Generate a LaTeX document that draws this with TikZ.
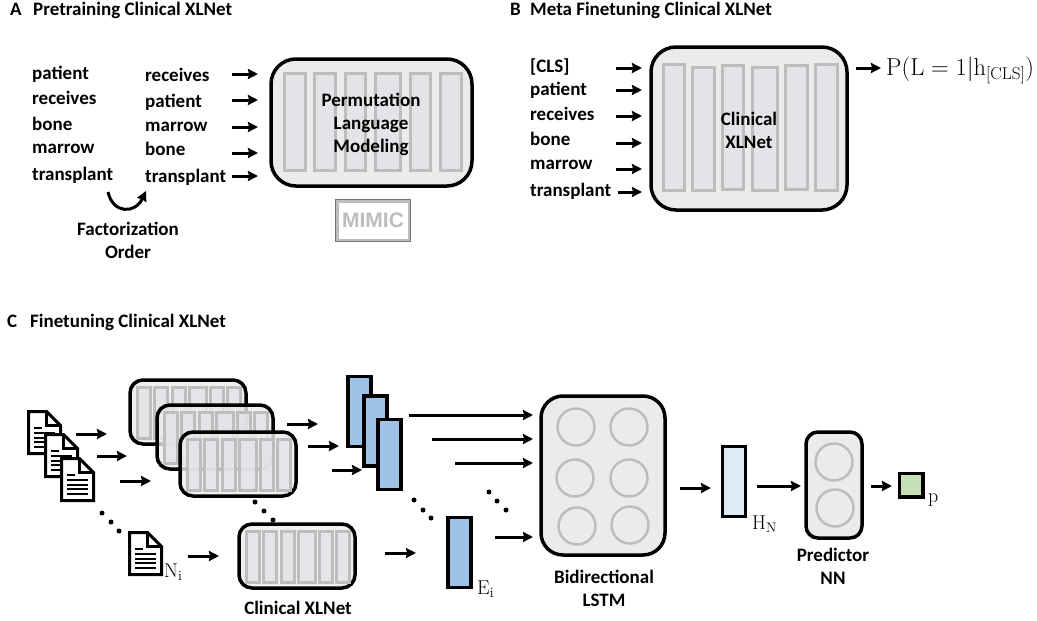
\documentclass[tikz,border=0pt]{standalone}
\usepackage{fix-cm}
\usepackage{fontspec}
\usetikzlibrary{arrows.meta}
\newfontfamily\carlito{Carlito}
\newfontfamily\mimicfont{Liberation Sans}
\definecolor{boxfill}{HTML}{EBEBEB}
\definecolor{barfill}{HTML}{E3E4E8}
\definecolor{barline}{HTML}{BDBDBD}
\definecolor{embedblue}{HTML}{9DC3E6}
\definecolor{hiddenblue}{HTML}{DEEBF7}
\definecolor{outgreen}{HTML}{C5E0B4}
\tikzset{
    flow/.style={line width=3pt, -{Stealth[length=10pt,width=10pt,inset=1pt]}},
    word/.style={font=\carlito\bfseries\fontsize{19}{23}\selectfont, inner sep=0pt, anchor=base west},
    caption/.style={font=\carlito\bfseries\fontsize{19}{23}\selectfont, inner sep=0pt, align=center},
    paneltitle/.style={font=\carlito\bfseries\fontsize{19}{21}\selectfont, inner sep=0pt, anchor=base west},
    mathlabel/.style={font=\fontsize{20}{22}\selectfont, inner sep=0pt, anchor=base west},
    bigbox/.style={draw=black, line width=3.5pt, fill=boxfill, rounded corners=25pt, inner sep=0pt},
    smallbox/.style={draw=black, line width=3.5pt, fill=boxfill, fill opacity=0.8, rounded corners=13pt, inner sep=0pt, minimum width=116pt, minimum height=64pt},
    bigbar/.style={draw=barline, line width=3pt, fill=barfill},
    smallbar/.style={draw=barline, line width=3pt, fill=barfill, fill opacity=0.85},
    vecbar/.style={draw=black, line width=3.5pt, inner sep=0pt, minimum width=23pt, minimum height=70pt},
    unit/.style={draw=barline, line width=2.5pt, circle, inner sep=0pt, minimum size=37pt},
    dot/.style={fill=black, circle, inner sep=0pt, minimum size=5pt},
}
\begin{document}
\begin{tikzpicture}[x=1pt, y=-1pt]
    \useasboundingbox (0,0) rectangle (1037,621);

    % panel A
    \node[paneltitle] (tagA) at (10,16) {A};
    \node[paneltitle] (titleA) at (33,16) {Pretraining Clinical XLNet};

    \foreach \w/\y in {patient/79,receives/104.5,bone/130,marrow/153.5,transplant/180.5}
        \node[word] (left\w) at (32,\y) {\w};
    \foreach \w/\y in {receives/81.5,patient/107,marrow/131.5,bone/155.5,transplant/182.5}
        \node[word] (right\w) at (145,\y) {\w};

    \coordinate (turnA) at (108,192);
    \coordinate (turnB) at (146,191);
    \draw[flow] (turnA) .. controls (113,214) and (135,214) .. (turnB);
    \node[caption] (order) at (128,240) {Factorization\\Order};

    \node[bigbox, minimum width=201pt, minimum height=127pt] (pretrain) at (371.5,122.5) {};
    \foreach \l/\r in {284/305,314/335,345/365,375/400,410/430,440/461}
        \draw[bigbar] (\l,73) rectangle (\r,170);
    \node[caption] (plm) at (371,124) {Permutation\\Language\\Modeling};
    \foreach \i/\y in {1/74,2/100,3/127,4/153,5/176} {
        \coordinate (inA\i) at (232,\y);
        \draw[flow] (inA\i) -- (258,\y);
    }

    \node[draw=barline, line width=3pt, fill=white, inner sep=0pt, minimum width=72pt, minimum height=39pt,
        text=barline, font=\mimicfont\bfseries\fontsize{21}{23}\selectfont] (mimic) at (373,220.5) {MIMIC};
    \draw[draw=black!55, line width=1pt] (mimic.north west) rectangle (mimic.south east);

    % panel B
    \node[paneltitle] (tagB) at (510,16) {B};
    \node[paneltitle] (titleB) at (530,16) {Meta Finetuning Clinical XLNet};

    \foreach \w/\y in {[CLS]/72.5,patient/95.5,receives/120.5,bone/145.5,marrow/169.5,transplant/196.5}
        \node[word] (meta\y) at (530,\y) {\w};

    \node[bigbox, minimum width=196pt, minimum height=163pt] (clinical) at (749,128.5) {};
    \foreach \l/\r/\t/\b in {663/684/64/190,692/714/67/190,722/743/65/189,752/777/67/190,785/807/65/189,815/837/64/190}
        \draw[bigbar] (\l,\t) rectangle (\r,\b);
    \node[caption] (cxl) at (749,130.5) {Clinical\\XLNet};
    \foreach \i/\a/\y in {1/616/68,2/616/90,3/616/116,4/616/143,5/616/169,6/618/192} {
        \coordinate (inB\i) at (\a,\y);
        \draw[flow] (inB\i) -- (642,\y);
    }
    \coordinate (outB) at (856,68);
    \coordinate (outBtip) at (881,68);
    \draw[flow] (outB) -- (outBtip);
    \node[mathlabel, font=\fontsize{24.5}{26}\selectfont] (prob) at (886,75) {$\mathrm{P(L=1|h_{[CLS]})}$};

    % panel C
    \node[paneltitle] (tagC) at (7,327) {C};
    \node[paneltitle] (titleC) at (30,327) {Finetuning Clinical XLNet};

    \foreach \x/\y in {28.5/411.5,45.5/434.5,61.5/458.5,129.5/532.5} {
        \begin{scope}[shift={(\x,\y)}]
            \draw[line width=3pt, fill=white, line join=miter] (0,0) -- (18,0) -- (32,14) -- (32,42) -- (0,42) -- cycle;
            \draw[line width=3pt] (18,0) -- (18,14) -- (32,14);
            \draw[line width=2pt] (5,16) -- (13,16);
            \foreach \d in {21,26,30,35} \draw[line width=2pt] (5,\d) -- (26,\d);
        \end{scope}
    }
    \node[mathlabel] (docN) at (164,577) {$\mathrm{N_i}$};

    \foreach \n/\bx/\by in {ctxa/129/379,ctxb/156/404,ctxc/179/431,ctxi/238/523} {
        \node[smallbox] (\n) at (\bx+59,\by+33) {};
        \foreach \l/\r in {8/21,25/38,43/56,60/77,81/94,98/111}
            \draw[smallbar] (\bx+\l,\by+8) rectangle (\bx+\r,\by+59);
    }
    \node[caption] (cxlc) at (298,608) {Clinical XLNet};

    \node[vecbar, fill=embedblue] (ema) at (359.5,411.5) {};
    \node[vecbar, fill=embedblue] (emb) at (375.5,431) {};
    \node[vecbar, fill=embedblue] (emc) at (389.5,454.5) {};
    \node[vecbar, fill=embedblue] (emi) at (459.5,552.5) {};
    \node[mathlabel] (emlabel) at (477,594) {$\mathrm{E_i}$};

    \foreach \i/\a/\b/\y in {1/76/107/434,2/97/127/456,3/120/151/481,4/188/219/556,
        5/287/318/424,6/308/339/446,7/332/362/470,8/385/416/553,
        9/409/533/415,10/432/533/439,11/455/533/463,12/495/533/537,
        13/680/711/488,14/757/801/486,15/871/892/486} {
        \coordinate (tail\i) at (\a,\y);
        \draw[flow] (tail\i) -- (\b,\y);
    }

    \foreach \x/\y in {102/513,111/522,119/531,255/502,264/511,273/520,414/500,423/510,431/518,489/492,497/501,506/510}
        \node[dot] (dot\x) at (\x,\y) {};

    \node[bigbox, rounded corners=22pt, minimum width=124pt, minimum height=159pt] (lstm) at (603,475.5) {};
    \foreach \n/\x/\y in {1/576/427,2/629/427,3/575/478,4/629/478,5/577/526,6/630/525}
        \node[unit] (cell\n) at (\x,\y) {};
    \node[caption] (lstmtext) at (604,588) {Bidirectional\\LSTM};

    \node[vecbar, fill=hiddenblue] (hidden) at (734,481.5) {};
    \node[mathlabel] (hlabel) at (752,529) {$\mathrm{H_N}$};

    \node[bigbox, rounded corners=12pt, minimum width=56pt, minimum height=106pt] (predictor) at (834,485) {};
    \node[unit] (preda) at (834,462) {};
    \node[unit] (predb) at (835,508) {};
    \node[caption] (predtext) at (833,566.5) {Predictor\\NN};

    \node[draw=black, line width=3.5pt, fill=outgreen, inner sep=0pt, minimum size=23.5pt] (output) at (911,485) {};
    \node[mathlabel] (plabel) at (928,502) {$\mathrm{p}$};
\end{tikzpicture}
\end{document}
